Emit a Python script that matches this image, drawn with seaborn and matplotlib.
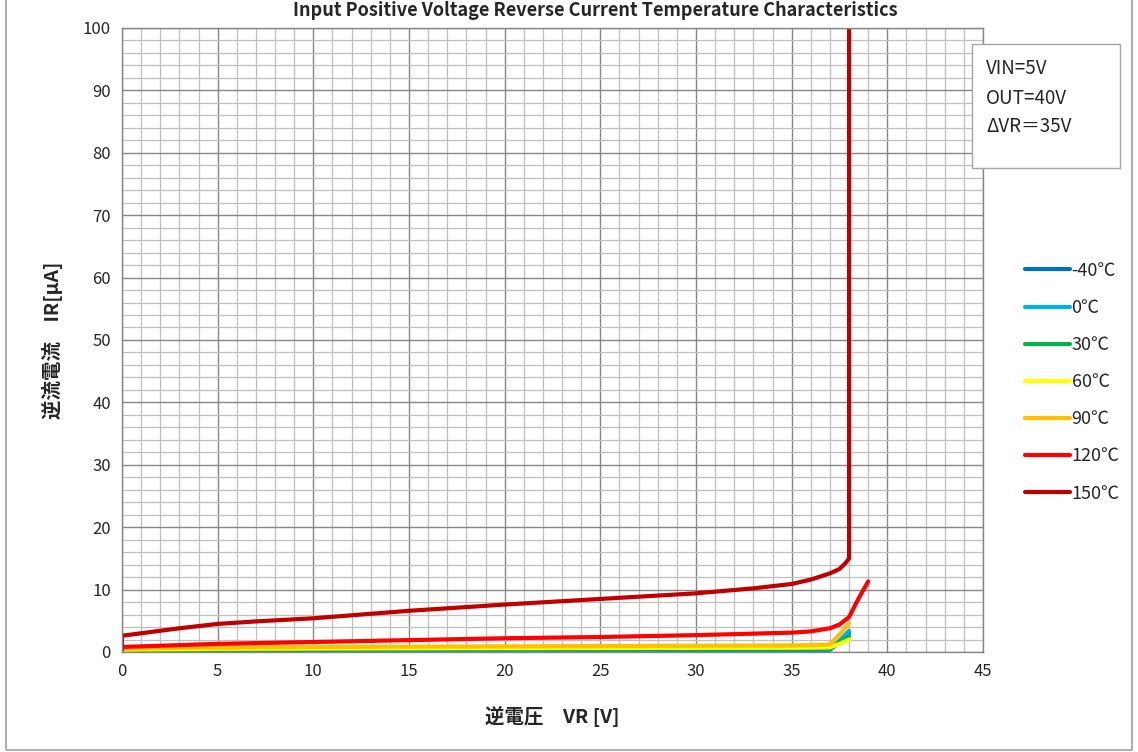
import numpy as np
import pandas as pd
import seaborn as sns
import matplotlib.pyplot as plt
from matplotlib.ticker import MultipleLocator
from matplotlib.patches import Rectangle

# data
vr_common = [0, 1, 3, 5, 10, 15, 20, 25, 30, 35, 36, 37, 37.5, 38]
ir_m40 = [0.10, 0.12, 0.15, 0.18, 0.20, 0.22, 0.24, 0.26, 0.28, 0.30, 0.32, 0.35, 1.6, 3.0]
ir_0 = [0.15, 0.18, 0.22, 0.26, 0.30, 0.32, 0.34, 0.36, 0.38, 0.40, 0.42, 0.45, 1.8, 3.4]
ir_30 = [0.20, 0.24, 0.28, 0.32, 0.36, 0.40, 0.42, 0.44, 0.46, 0.48, 0.50, 0.55, 1.5, 2.5]
ir_60 = [0.35, 0.40, 0.45, 0.50, 0.55, 0.60, 0.62, 0.64, 0.66, 0.68, 0.70, 0.75, 1.3, 2.0]
ir_90 = [0.55, 0.60, 0.65, 0.70, 0.80, 0.85, 0.90, 0.95, 1.00, 1.05, 1.10, 1.20, 2.8, 4.6]

vr_120 = [0, 1, 3, 5, 10, 15, 20, 25, 30, 35, 36, 37, 37.5, 38, 38.5, 39]
ir_120 = [0.8, 0.9, 1.1, 1.3, 1.6, 1.9, 2.2, 2.4, 2.7, 3.1, 3.3, 3.8, 4.4, 5.6, 8.6, 11.3]

vr_150 = [0, 0, 1, 3, 5, 7, 10, 15, 20, 25, 30, 33, 35, 36, 37, 37.5, 37.8, 38, 38.0]
ir_150 = [0.3, 2.6, 3.0, 3.8, 4.5, 4.9, 5.4, 6.6, 7.6, 8.5, 9.4, 10.2, 10.9, 11.6, 12.6, 13.3, 14.2, 15.0, 100]

labels = ['-40℃', '0℃', '30℃', '60℃', '90℃', '120℃', '150℃']
colors = ['#0070C0', '#00B0F0', '#00B050', '#FFFF00', '#FFC000', '#FF0000', '#C00000']
note_lines = ['VIN=5V', 'OUT=40V', 'ΔVR＝35V']

series = [
    (vr_common, ir_m40), (vr_common, ir_0), (vr_common, ir_30),
    (vr_common, ir_60), (vr_common, ir_90), (vr_120, ir_120), (vr_150, ir_150),
]
frames = []
for lab, (xs, ys) in zip(labels, series):
    frames.append(pd.DataFrame({'VR': xs, 'IR': ys, 'temp': lab}))
df = pd.concat(frames, ignore_index=True)

sns.set_theme(style='white')
plt.rcParams['font.family'] = ['Noto Sans CJK JP', 'DejaVu Sans']

fig = plt.figure(figsize=(11.38, 7.52), dpi=100)
ax = fig.add_axes([0.1072, 0.1330, 0.7566, 0.8298])

sns.lineplot(data=df, x='VR', y='IR', hue='temp', hue_order=labels,
             palette=colors, estimator=None, sort=False, units='temp',
             linewidth=3, ax=ax, legend=True)

ax.set_xlim(0, 45)
ax.set_ylim(0, 100)
ax.xaxis.set_major_locator(MultipleLocator(5))
ax.xaxis.set_minor_locator(MultipleLocator(1))
ax.yaxis.set_major_locator(MultipleLocator(10))
ax.yaxis.set_minor_locator(MultipleLocator(2))
ax.grid(which='major', color='#868686', linewidth=1.0)
ax.grid(which='minor', color='#BFBFBF', linewidth=0.9)
ax.set_axisbelow(True)
for s in ax.spines.values():
    s.set_color('#868686')
    s.set_linewidth(1.0)
ax.tick_params(axis='both', which='both', length=0, labelsize=12, pad=8)

ax.set_xlabel('逆電圧　VR [V]', fontsize=14, fontweight='bold', labelpad=19)
ax.set_ylabel('逆流電流　IR[μA]', fontsize=14, fontweight='bold', labelpad=14)

ax.legend(loc='upper left', bbox_to_anchor=(1.04, 0.637), frameon=False,
          fontsize=13, handlelength=2.5, handletextpad=0.1, labelspacing=1.06,
          borderaxespad=0)

# note box
fig.patches.append(Rectangle((972 / 1138, 1 - 168 / 752), 148 / 1138, 124 / 752,
                             transform=fig.transFigure, facecolor='white',
                             edgecolor='#A6A6A6', linewidth=1.0, zorder=5))
for i, line in enumerate(note_lines):
    fig.text(986 / 1138, 1 - (69 + 29 * i) / 752, line, fontsize=13.5,
             ha='left', va='center', zorder=6)

fig.text(0.523, 0.999, 'Input Positive Voltage Reverse Current Temperature Characteristics',
         fontsize=13, fontweight='bold', ha='center', va='top')

fig.patches.append(Rectangle((0.005, 0.003), 0.99, 1.2, transform=fig.transFigure,
                             fill=False, edgecolor='#A0A0A0', linewidth=1.2))

fig.savefig('out.png', dpi=100)
